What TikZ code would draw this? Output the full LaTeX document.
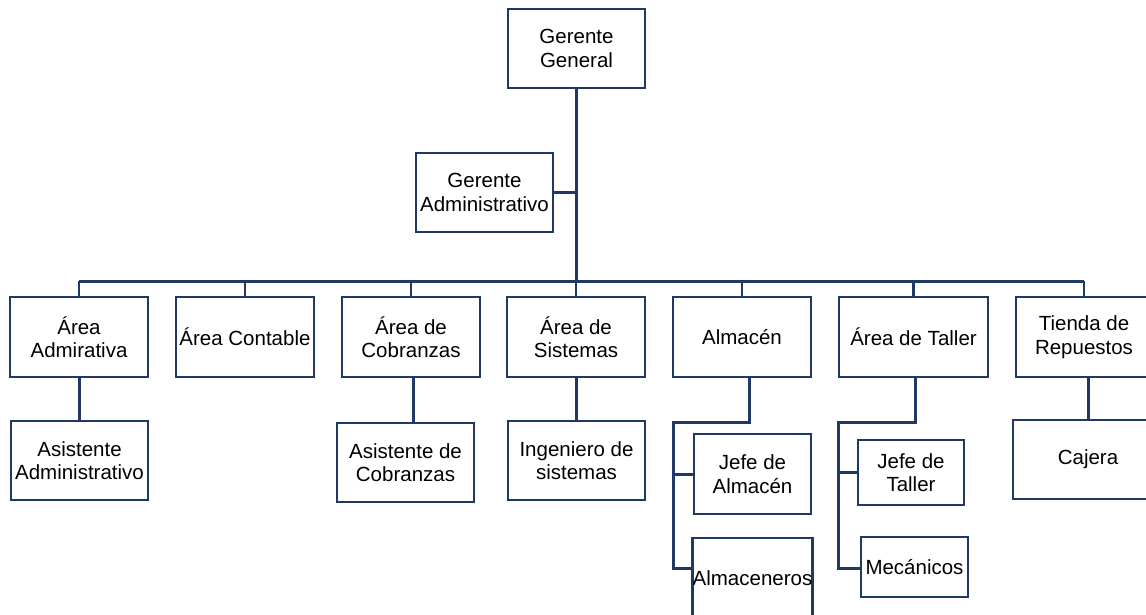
\documentclass[tikz,border=0pt]{standalone}
\usepackage{fontspec}
\setmainfont{Liberation Sans}
\definecolor{navy}{HTML}{1F3864}
\begin{document}
\begin{tikzpicture}[x=1pt,y=-1pt,
  box/.style={draw=navy,line width=2.6pt,fill=white,inner sep=0pt,outer sep=0pt,
    align=center,font=\fontsize{20.5}{23.5}\selectfont,text=black},
  link/.style={draw=navy,line width=3pt},
  thin link/.style={draw=navy,line width=2.2pt}]
\useasboundingbox (0,0) rectangle (1146,615);
\clip (0,0) rectangle (1146,615);
% coordinates
\coordinate (bus) at (577,281);
\coordinate (j5) at (749,422);
\coordinate (s5) at (673,422);
\coordinate (e5) at (673,568);
\coordinate (j6) at (915,422);
\coordinate (s6) at (838,422);
\coordinate (e6) at (838,568);
% nodes
\node[box,minimum width=137,minimum height=79] (gg) at (576.5,48.5) {Gerente\\General};
\node[box,minimum width=137,minimum height=79] (ga) at (484.5,192.5) {Gerente\\Administrativo};
\node[box,minimum width=138,minimum height=80] (a1) at (79,337) {Área\\Admirativa};
\node[box,minimum width=138,minimum height=80] (a2) at (245,337) {Área Contable};
\node[box,minimum width=138,minimum height=80] (a3) at (411,337) {Área de\\Cobranzas};
\node[box,minimum width=138,minimum height=80] (a4) at (576,337) {Área de\\Sistemas};
\node[box,minimum width=138,minimum height=80] (a5) at (742,337) {Almacén};
\node[box,minimum width=149,minimum height=80] (a6) at (913.5,337) {Área de Taller};
\node[box,minimum width=136,minimum height=80] (a7) at (1084,337) {Tienda de\\Repuestos};
\node[box,minimum width=137,minimum height=79] (b1) at (79.5,460.5) {Asistente\\Administrativo};
\node[box,minimum width=137,minimum height=79] (b3) at (405.5,462.5) {Asistente de\\Cobranzas};
\node[box,minimum width=137,minimum height=79] (b4) at (576.5,460.5) {Ingeniero de\\sistemas};
\node[box,minimum width=150,minimum height=79] (b7) at (1088,459.5) {Cajera};
\node[box,minimum width=117,minimum height=80] (c1) at (752.5,474) {Jefe de\\Almacén};
\node[box,minimum width=117,minimum height=80] (c2) at (752.5,578) {Almaceneros};
\node[box,minimum width=106,minimum height=65] (d1) at (911,472.5) {Jefe de\\Taller};
\node[box,minimum width=107,minimum height=60] (d2) at (914.5,567) {Mecánicos};
% connectors
\begin{scope}[on background layer/.style={}]
\draw[link] (gg.south) -- (gg.south |- bus);
\draw[thin link] (ga.east) -- (ga.east -| gg.south);
\draw[link] (a1.north |- bus) -- (a7.north |- bus);
\foreach \n in {a1,a2,a3,a4,a5,a6,a7}{
  \draw[thin link] (\n.north |- bus) -- (\n.north);
}
\draw[link] (a1.south) -- (b1.north -| a1.south);
\draw[link] ([xshift=2pt]a3.south) -- ([xshift=2pt]a3.south |- b3.north);
\draw[link] (a4.south) -- (a4.south |- b4.north);
\draw[link] ([xshift=4pt]a7.south) -- ([xshift=4pt]a7.south |- b7.north);
\draw[link] (j5 |- a5.south) -- (j5) -- (s5) -- (e5) -- (e5 -| c2.west);
\draw[link] (s5 |- c1.west) -- (c1.west);
\draw[link] (j6 |- a6.south) -- (j6) -- (s6) -- (e6) -- (e6 -| d2.west);
\draw[link] (s6 |- d1.west) -- (d1.west);
\end{scope}
\end{tikzpicture}
\end{document}
